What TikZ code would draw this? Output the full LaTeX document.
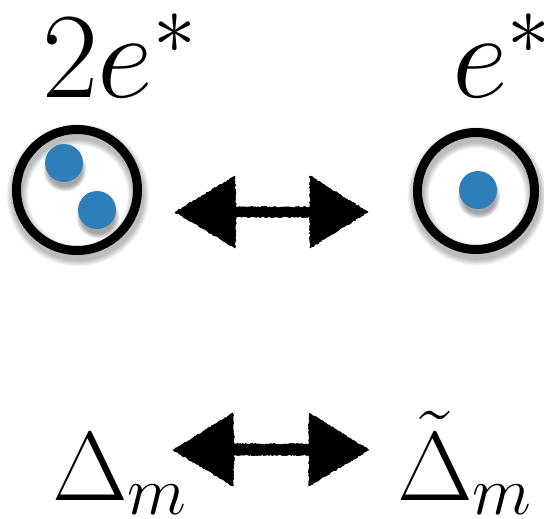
\RequirePackage{fix-cm}
\documentclass[tikz,border=0pt]{standalone}
\usetikzlibrary{decorations.pathmorphing}
\definecolor{dotblue}{RGB}{46,126,186}
\tikzset{
  bigtop/.style={inner sep=0pt, outer sep=0pt, font=\fontsize{122}{125}\selectfont},
  bigbot/.style={inner sep=0pt, outer sep=0pt, font=\fontsize{98}{100}\selectfont},
  ring/.style={draw=black, line width=9pt},
  dot/.style={fill=dotblue},
  rough/.style={fill=black, draw=black, line width=0.6pt, line join=round,
     decorate, decoration={random steps, segment length=1.5pt, amplitude=0.7pt}}
}
\newcommand{\ringshadow}[3]{%
  \foreach \k in {1,...,8}{
    \draw[black, opacity=0.035, line width={9pt+1.6*\k pt}] (#1pt+1pt,-#2pt-5pt) circle (#3pt);
  }}
\newcommand{\dotshadow}[3]{%
  \foreach \k in {1,...,7}{
    \fill[black, opacity=0.06] (#1pt+1pt,-#2pt-7pt) circle ({#3pt-3pt+0.8*\k pt});
  }}
\begin{document}
\begin{tikzpicture}[x=1pt,y=1pt]
\useasboundingbox (0,0) rectangle (544,-519);
\fill[white] (0,0) rectangle (544,-519);
% labels top
\node[bigtop, anchor=base west] (l2e) at (42,-98) {$2e^*$};
\node[bigtop, anchor=base west] (le) at (452,-98) {$e^*$};
% left ring
\ringshadow{77}{190}{60.5}
\dotshadow{64}{163}{19}
\dotshadow{97}{210}{19}
\draw[ring] (77,-190) coordinate (cL) circle (60.5);
\fill[dot] (64,-163) coordinate (d1) circle (19);
\fill[dot] (97,-210) coordinate (d2) circle (19);
% right ring
\ringshadow{476}{191}{58.5}
\dotshadow{478}{190}{19}
\draw[ring] (476,-191) coordinate (cR) circle (58.5);
\fill[dot] (478,-190) coordinate (d3) circle (19);
% top arrow
\path[rough] (175,-212) -- (235,-176) -- (236,-207) -- (310,-207) -- (310,-176)
   -- (368,-212) -- (310,-248) -- (310,-217) -- (236,-217) -- (235,-248) -- cycle;
% bottom labels
\node[bigbot, anchor=base west] (dm) at (52,-500) {$\Delta_m$};
\node[bigbot, anchor=base west] (dtm) at (397,-500) {$\tilde\Delta_m$};
% bottom arrow
\path[rough] (173,-450) -- (233,-413) -- (234,-444) -- (309,-444) -- (309,-413)
   -- (369,-450) -- (309,-486) -- (309,-455) -- (234,-455) -- (233,-486) -- cycle;
\end{tikzpicture}
\end{document}
